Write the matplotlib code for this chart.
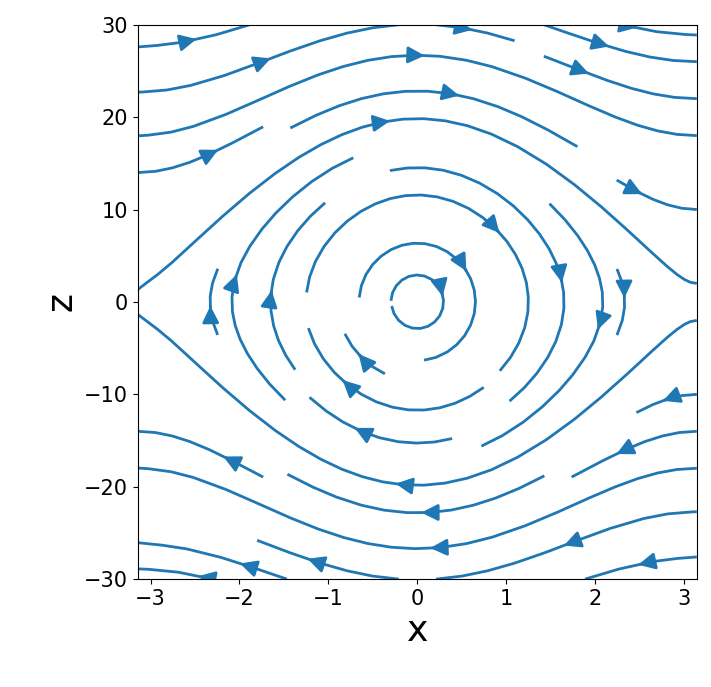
import matplotlib
matplotlib.use("Agg")
import matplotlib.pyplot as plt
import numpy as np

# pendulum phase plane: x' = z, z' = -(g/L) * sin(x)
x_range = [-np.pi, np.pi]
z_range = [-30, 30]
g_over_l = 9.81 / 0.1
n_grid = 100

x = np.linspace(x_range[0], x_range[1], n_grid)
z = np.linspace(z_range[0], z_range[1], n_grid)
X, Z = np.meshgrid(x, z)
U = Z
V = -g_over_l * np.sin(X)

fig = plt.figure(figsize=(7.11, 6.87), dpi=100)
ax = fig.add_axes([0.194, 0.157, 0.786, 0.807])
ax.streamplot(X, Z, U, V, color='#1f77b4', linewidth=2, arrowsize=2.5, density=0.55)
ax.set_xlim(x_range)
ax.set_ylim(z_range)
ax.set_xlabel('x', fontsize=26)
ax.set_ylabel('z', fontsize=26)
ax.tick_params(labelsize=15)
fig.savefig('out.png', dpi=100)
